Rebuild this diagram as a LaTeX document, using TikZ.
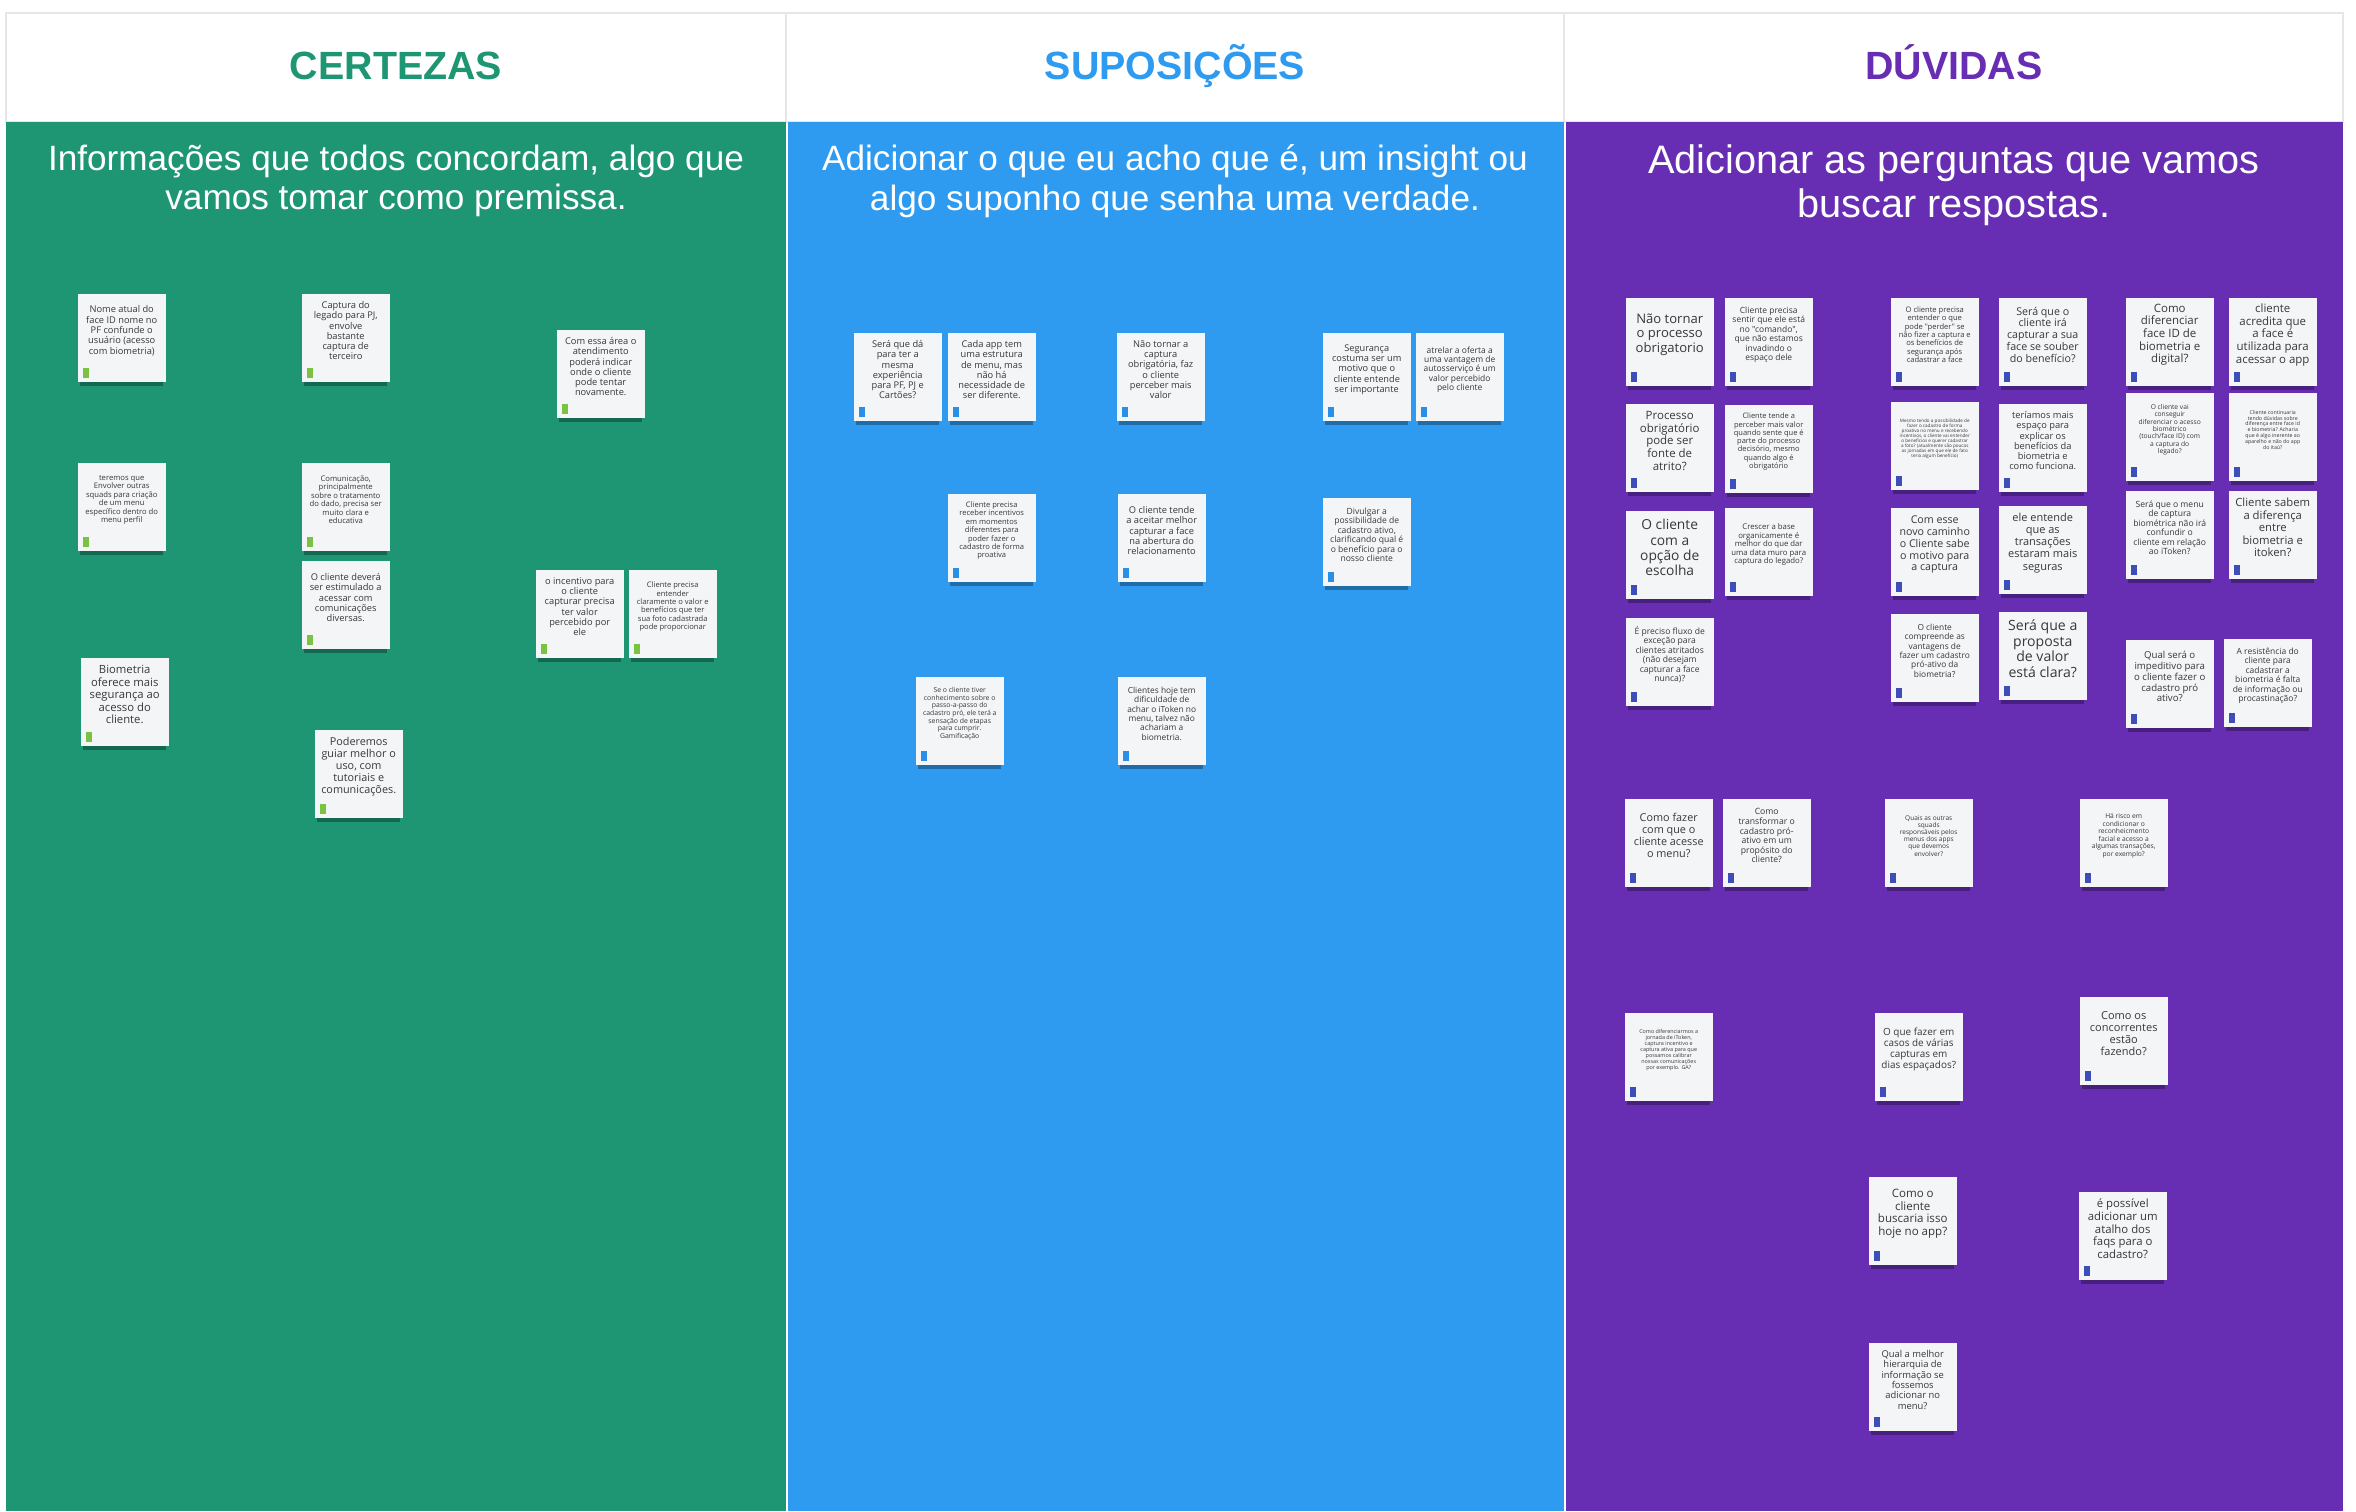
\documentclass[tikz,border=0pt]{standalone}
\usepackage{fontspec}
\setmainfont{Liberation Sans}
\newfontfamily\notefont{Open Sans}
\usetikzlibrary{shadows}

\definecolor{certgreen}{HTML}{1E9673}
\definecolor{supblue}{HTML}{2E9BF0}
\definecolor{duvpurple}{HTML}{672DB2}
\definecolor{notebg}{HTML}{F4F5F7}
\definecolor{notetext}{HTML}{383838}
\definecolor{taggreen}{HTML}{7CC242}
\definecolor{tagblue}{HTML}{2B8FE8}
\definecolor{tagindigo}{HTML}{3F4DB8}
\definecolor{framegray}{HTML}{E6E6E6}

% font size of a sticky note, from its line height in pixels
\newcommand{\nsize}[1]{\fontsize{\fpeval{round(#1/3.9,2)}}{\fpeval{round(#1/3.515,2)}}\selectfont}

\begin{document}
\begin{tikzpicture}[x=0.01cm, y=-0.01cm,
	  note/.style={fill=notebg, minimum width=0.88cm, minimum height=0.88cm, anchor=north west, inner sep=0pt,
	    drop shadow={shadow xshift=0cm, shadow yshift=-0.07cm, shadow scale=0.94, opacity=0.3, fill=black},
	    path picture={\fill[#1] ([xshift=0.05cm, yshift=0.04cm]path picture bounding box.south west) rectangle ++(0.065cm,0.1cm);}},
	  notetxt/.style={align=center, inner sep=0pt, text=notetext},
	  coltitle/.style={font=\bfseries\fontsize{11.2}{13}\selectfont, anchor=base, inner sep=0pt},
	  colsub/.style={align=center, text=white},
	]
	\useasboundingbox[fill=white] (0,0) rectangle (2356,1511);
	
	% Header
	\draw[framegray, line width=0.02cm, fill=white] (6,13) rectangle (2343,122);
	\draw[framegray, line width=0.02cm] (786,13) -- (786,122) (1564,13) -- (1564,122);
	\fill[certgreen] (6,122) rectangle (786,1511);
	\fill[supblue] (788,122) rectangle (1564,1511);
	\fill[duvpurple] (1566,122) rectangle (2343,1511);
	
	\node[coltitle, text=certgreen] (certezas) at (396,79) {CERTEZAS};
	\node[coltitle, text=supblue] (suposicoes) at (1175,79) {SUPOSIÇÕES};
	\node[coltitle, text=duvpurple] (duvidas) at (1954,79) {DÚVIDAS};
	
	\node[colsub, font=\fontsize{10}{11.3}\selectfont] (certsub) at (396,181) {Informações que todos concordam, algo que\\vamos tomar como premissa.};
	\node[colsub, font=\fontsize{10}{11.3}\selectfont] (supsub) at (1175,181) {Adicionar o que eu acho que é, um insight ou\\algo suponho que senha uma verdade.};
	\node[colsub, font=\fontsize{11.3}{12.6}\selectfont] (duvsub) at (1954,185) {Adicionar as perguntas que vamos\\buscar respostas.};
	
	% Certezas
	\node[note=taggreen] (c1a) at (77,293) {};
	\node[notetxt, font=\notefont\nsize{10.3}] (c1at) at ([yshift=0.07cm]c1a.center) {Nome atual do\\face ID nome no\\PF confunde o\\usuário (acesso\\com biometria)};
	\node[note=taggreen] (c1b) at (301,293) {};
	\node[notetxt, font=\notefont\nsize{10.3}] (c1bt) at ([yshift=0.07cm]c1b.center) {Captura do\\legado para PJ,\\envolve\\bastante\\captura de\\terceiro};
	\node[note=taggreen] (c1c) at (556,329) {};
	\node[notetxt, font=\notefont\nsize{10.3}] (c1ct) at ([yshift=0.07cm]c1c.center) {Com essa área o\\atendimento\\poderá indicar\\onde o cliente\\pode tentar\\novamente.};
	\node[note=taggreen] (c1d) at (77,462) {};
	\node[notetxt, font=\notefont\nsize{8.5}] (c1dt) at ([yshift=0.07cm]c1d.center) {teremos que\\Envolver outras\\squads para criação\\de um menu\\específico dentro do\\menu perfil};
	\node[note=taggreen] (c1e) at (301,462) {};
	\node[notetxt, font=\notefont\nsize{8.5}] (c1et) at ([yshift=0.07cm]c1e.center) {Comunicação,\\principalmente\\sobre o tratamento\\do dado, precisa ser\\muito clara e\\educativa};
	\node[note=taggreen] (c1f) at (301,560) {};
	\node[notetxt, font=\notefont\nsize{10.3}] (c1ft) at ([yshift=0.07cm]c1f.center) {O cliente deverá\\ser estimulado a\\acessar com\\comunicações\\diversas.};
	\node[note=taggreen] (c1g) at (535,569) {};
	\node[notetxt, font=\notefont\nsize{10.3}] (c1gt) at ([yshift=0.07cm]c1g.center) {o incentivo para\\o cliente\\capturar precisa\\ter valor\\percebido por\\ele};
	\node[note=taggreen] (c1h) at (628,569) {};
	\node[notetxt, font=\notefont\nsize{8.4}] (c1ht) at ([yshift=0.07cm]c1h.center) {Cliente precisa\\entender\\claramente o valor e\\benefícios que ter\\sua foto cadastrada\\pode proporcionar};
	\node[note=taggreen] (c1i) at (80,657) {};
	\node[notetxt, font=\notefont\nsize{12.5}] (c1it) at ([yshift=0.07cm]c1i.center) {Biometria\\oferece mais\\segurança ao\\acesso do\\cliente.};
	\node[note=taggreen] (c1j) at (314,729) {};
	\node[notetxt, font=\notefont\nsize{12}] (c1jt) at ([yshift=0.07cm]c1j.center) {Poderemos\\guiar melhor o\\uso, com\\tutoriais e\\comunicações.};
	
	% Suposicoes
	\node[note=tagblue] (c2a) at (853,332) {};
	\node[notetxt, font=\notefont\nsize{10.3}] (c2at) at ([yshift=0.07cm]c2a.center) {Será que dá\\para ter a\\mesma\\experiência\\para PF, PJ e\\Cartões?};
	\node[note=tagblue] (c2b) at (947,332) {};
	\node[notetxt, font=\notefont\nsize{10.3}] (c2bt) at ([yshift=0.07cm]c2b.center) {Cada app tem\\uma estrutura\\de menu, mas\\não há\\necessidade de\\ser diferente.};
	\node[note=tagblue] (c2c) at (1116,332) {};
	\node[notetxt, font=\notefont\nsize{10.3}] (c2ct) at ([yshift=0.07cm]c2c.center) {Não tornar a\\captura\\obrigatória, faz\\o cliente\\perceber mais\\valor};
	\node[note=tagblue] (c2d) at (1322,332) {};
	\node[notetxt, font=\notefont\nsize{10.2}] (c2dt) at ([yshift=0.07cm]c2d.center) {Segurança\\costuma ser um\\motivo que o\\cliente entende\\ser importante};
	\node[note=tagblue] (c2e) at (1415,332) {};
	\node[notetxt, font=\notefont\nsize{9.4}] (c2et) at ([yshift=0.07cm]c2e.center) {atrelar a oferta a\\uma vantagem de\\autosserviço é um\\valor percebido\\pelo cliente};
	\node[note=tagblue] (c2f) at (947,493) {};
	\node[notetxt, font=\notefont\nsize{8.4}] (c2ft) at ([yshift=0.07cm]c2f.center) {Cliente precisa\\receber incentivos\\em momentos\\diferentes para\\poder fazer o\\cadastro de forma\\proativa};
	\node[note=tagblue] (c2g) at (1117,493) {};
	\node[notetxt, font=\notefont\nsize{10.3}] (c2gt) at ([yshift=0.07cm]c2g.center) {O cliente tende\\a aceitar melhor\\capturar a face\\na abertura do\\relacionamento};
	\node[note=tagblue] (c2h) at (1322,497) {};
	\node[notetxt, font=\notefont\nsize{9.5}] (c2ht) at ([yshift=0.07cm]c2h.center) {Divulgar a\\possibilidade de\\cadastro ativo,\\clarificando qual é\\o benefício para o\\nosso cliente};
	\node[note=tagblue] (c2i) at (915,676) {};
	\node[notetxt, font=\notefont\nsize{7.6}] (c2it) at ([yshift=0.07cm]c2i.center) {Se o cliente tiver\\conhecimento sobre o\\passo-a-passo do\\cadastro pró, ele terá a\\sensação de etapas\\para cumprir.\\Gamificação};
	\node[note=tagblue] (c2j) at (1117,676) {};
	\node[notetxt, font=\notefont\nsize{9.3}] (c2jt) at ([yshift=0.07cm]c2j.center) {Clientes hoje tem\\dificuldade de\\achar o iToken no\\menu, talvez não\\achariam a\\biometria.};
	
	% Duvidas
	\node[note=tagindigo] (c3a) at (1625,297) {};
	\node[notetxt, font=\notefont\nsize{14.5}] (c3at) at ([yshift=0.07cm]c3a.center) {Não tornar\\o processo\\obrigatorio};
	\node[note=tagindigo] (c3b) at (1724,297) {};
	\node[notetxt, font=\notefont\nsize{9.4}] (c3bt) at ([yshift=0.07cm]c3b.center) {Cliente precisa\\sentir que ele está\\no "comando",\\que não estamos\\invadindo o\\espaço dele};
	\node[note=tagindigo] (c3c) at (1625,403) {};
	\node[notetxt, font=\notefont\nsize{12.7}] (c3ct) at ([yshift=0.07cm]c3c.center) {Processo\\obrigatório\\pode ser\\fonte de\\atrito?};
	\node[note=tagindigo] (c3d) at (1724,404) {};
	\node[notetxt, font=\notefont\nsize{8.3}] (c3dt) at ([yshift=0.07cm]c3d.center) {Cliente tende a\\perceber mais valor\\quando sente que é\\parte do processo\\decisório, mesmo\\quando algo é\\obrigatório};
	\node[note=tagindigo] (c3e) at (1625,510) {};
	\node[notetxt, font=\notefont\nsize{15.3}] (c3et) at ([yshift=0.07cm]c3e.center) {O cliente\\com a\\opção de\\escolha};
	\node[note=tagindigo] (c3f) at (1724,507) {};
	\node[notetxt, font=\notefont\nsize{8.6}] (c3ft) at ([yshift=0.07cm]c3f.center) {Crescer a base\\organicamente é\\melhor do que dar\\uma data muro para\\captura do legado?};
	\node[note=tagindigo] (c3g) at (1625,617) {};
	\node[notetxt, font=\notefont\nsize{9.5}] (c3gt) at ([yshift=0.07cm]c3g.center) {É preciso fluxo de\\exceção para\\clientes atritados\\(não desejam\\capturar a face\\nunca)?};
	
	\node[note=tagindigo] (c3h) at (1890,297) {};
	\node[notetxt, font=\notefont\nsize{8.4}] (c3ht) at ([yshift=0.07cm]c3h.center) {O cliente precisa\\entender o que\\pode "perder" se\\não fizer a captura e\\os benefícios de\\segurança após\\cadastrar a face};
	\node[note=tagindigo] (c3i) at (1998,297) {};
	\node[notetxt, font=\notefont\nsize{11.8}] (c3it) at ([yshift=0.07cm]c3i.center) {Será que o\\cliente irá\\capturar a sua\\face se souber\\do benefício?};
	\node[note=tagindigo] (c3j) at (1890,401) {};
	\node[notetxt, font=\notefont\nsize{5.1}] (c3jt) at ([yshift=0.07cm]c3j.center) {Mesmo tendo a possibilidade de\\fazer o cadastro de forma\\proativa no menu e recebendo\\incentivos, o cliente vai entender\\o benefícios  e querer cadastrar\\a foto? (atualmente são poucas\\as jornadas em que ele de fato\\teria algum benefício)};
	\node[note=tagindigo] (c3k) at (1998,403) {};
	\node[notetxt, font=\notefont\nsize{10.3}] (c3kt) at ([yshift=0.07cm]c3k.center) {teríamos mais\\espaço para\\explicar os\\benefícios da\\biometria e\\como funciona.};
	\node[note=tagindigo] (c3l) at (1890,507) {};
	\node[notetxt, font=\notefont\nsize{11.8}] (c3lt) at ([yshift=0.07cm]c3l.center) {Com esse\\novo caminho\\o Cliente sabe\\o motivo para\\a captura};
	\node[note=tagindigo] (c3m) at (1998,505) {};
	\node[notetxt, font=\notefont\nsize{12.2}] (c3mt) at ([yshift=0.07cm]c3m.center) {ele entende\\que as\\transações\\estaram mais\\seguras};
	\node[note=tagindigo] (c3n) at (1890,613) {};
	\node[notetxt, font=\notefont\nsize{9.3}] (c3nt) at ([yshift=0.07cm]c3n.center) {O cliente\\compreende as\\vantagens de\\fazer um cadastro\\pró-ativo da\\biometria?};
	\node[note=tagindigo] (c3o) at (1998,611) {};
	\node[notetxt, font=\notefont\nsize{15.6}] (c3ot) at ([yshift=0.07cm]c3o.center) {Será que a\\proposta\\de valor\\está clara?};
	
	\node[note=tagindigo] (c3p) at (2125,297) {};
	\node[notetxt, font=\notefont\nsize{12.7}] (c3pt) at ([yshift=0.07cm]c3p.center) {Como\\diferenciar\\face ID de\\biometria e\\digital?};
	\node[note=tagindigo] (c3q) at (2228,297) {};
	\node[notetxt, font=\notefont\nsize{12.7}] (c3qt) at ([yshift=0.07cm]c3q.center) {cliente\\acredita que\\a face é\\utilizada para\\acessar o app};
	\node[note=tagindigo] (c3r) at (2125,392) {};
	\node[notetxt, font=\notefont\nsize{7.4}] (c3rt) at ([yshift=0.07cm]c3r.center) {O cliente vai\\conseguir\\diferenciar o acesso\\biométrico\\(touch/face ID) com\\a captura do\\legado?};
	\node[note=tagindigo] (c3s) at (2228,392) {};
	\node[notetxt, font=\notefont\nsize{5.8}] (c3st) at ([yshift=0.07cm]c3s.center) {Cliente continuaria\\tendo dúvidas sobre\\diferença entre face id\\e biometria? Acharia\\que é algo inerente ao\\aparelho e não do app\\do itaú?};
	\node[note=tagindigo] (c3t) at (2125,490) {};
	\node[notetxt, font=\notefont\nsize{9.5}] (c3tt) at ([yshift=0.07cm]c3t.center) {Será que o menu\\de captura\\biométrica não irá\\confundir o\\cliente em relação\\ao iToken?};
	\node[note=tagindigo] (c3u) at (2228,490) {};
	\node[notetxt, font=\notefont\nsize{12.5}] (c3ut) at ([yshift=0.07cm]c3u.center) {Cliente sabem\\a diferença\\entre\\biometria e\\itoken?};
	\node[note=tagindigo] (c3v) at (2125,639) {};
	\node[notetxt, font=\notefont\nsize{10.7}] (c3vt) at ([yshift=0.07cm]c3v.center) {Qual será o\\impeditivo para\\o cliente fazer o\\cadastro pró\\ativo?};
	\node[note=tagindigo] (c3w) at (2223,638) {};
	\node[notetxt, font=\notefont\nsize{9.4}] (c3wt) at ([yshift=0.07cm]c3w.center) {A resistência do\\cliente para\\cadastrar a\\biometria é falta\\de informação ou\\procastinação?};
	
	\node[note=tagindigo] (c3x) at (1624,798) {};
	\node[notetxt, font=\notefont\nsize{12}] (c3xt) at ([yshift=0.07cm]c3x.center) {Como fazer\\com que o\\cliente acesse\\o menu?};
	\node[note=tagindigo] (c3y) at (1722,798) {};
	\node[notetxt, font=\notefont\nsize{9.6}] (c3yt) at ([yshift=0.07cm]c3y.center) {Como\\transformar o\\cadastro pró-\\ativo em um\\propósito do\\cliente?};
	\node[note=tagindigo] (c3z) at (1884,798) {};
	\node[notetxt, font=\notefont\nsize{7.2}] (c3zt) at ([yshift=0.07cm]c3z.center) {Quais as outras\\squads\\responsáveis pelos\\menus dos apps\\que devemos\\envolver?};
	\node[note=tagindigo] (c4a) at (2079,798) {};
	\node[notetxt, font=\notefont\nsize{7.4}] (c4at) at ([yshift=0.07cm]c4a.center) {Há risco em\\condicionar o\\reconheicmento\\facial e acesso a\\algumas transações,\\por exemplo?};
	\node[note=tagindigo] (c4b) at (1624,1012) {};
	\node[notetxt, font=\notefont\nsize{6}] (c4bt) at ([yshift=0.07cm]c4b.center) {Como diferenciarmos a\\jornada de iToken,\\captura incentivo e\\captura ativa para que\\possamos calibrar\\nossas comunicações\\por exemplo. GA?};
	\node[note=tagindigo] (c4c) at (1874,1012) {};
	\node[notetxt, font=\notefont\nsize{11}] (c4ct) at ([yshift=0.07cm]c4c.center) {O que fazer em\\casos de várias\\capturas em\\dias espaçados?};
	\node[note=tagindigo] (c4d) at (2079,996) {};
	\node[notetxt, font=\notefont\nsize{12.2}] (c4dt) at ([yshift=0.07cm]c4d.center) {Como os\\concorrentes\\estão\\fazendo?};
	\node[note=tagindigo] (c4e) at (1868,1176) {};
	\node[notetxt, font=\notefont\nsize{12.8}] (c4et) at ([yshift=0.07cm]c4e.center) {Como o\\cliente\\buscaria isso\\hoje no app?};
	\node[note=tagindigo] (c4f) at (2078,1191) {};
	\node[notetxt, font=\notefont\nsize{12.6}] (c4ft) at ([yshift=0.07cm]c4f.center) {é possível\\adicionar um\\atalho dos\\faqs para o\\cadastro?};
	\node[note=tagindigo] (c4g) at (1868,1342) {};
	\node[notetxt, font=\notefont\nsize{10.4}] (c4gt) at ([yshift=0.07cm]c4g.center) {Qual a melhor\\hierarquia de\\informação se\\fossemos\\adicionar no\\menu?};
	
	\end{tikzpicture}
\end{document}
